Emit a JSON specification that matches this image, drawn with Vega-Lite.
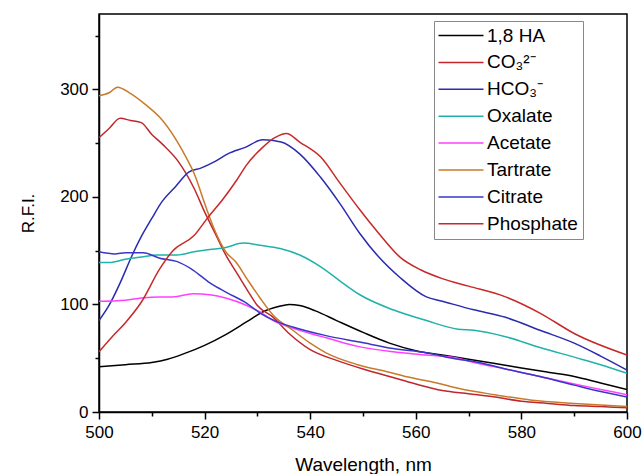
{
"$schema": "https://vega.github.io/schema/vega-lite/v6.json",
"width": 528, "height": 398,
"autosize": {"type": "none"},
"padding": {"left": 99, "top": 14, "right": 16, "bottom": 62},
"background": "white",
"config": {
  "view": {"stroke": "black", "strokeWidth": 1.5},
  "font": "Liberation Sans",
  "axis": {"domainColor": "black", "domainWidth": 1.5, "tickColor": "black", "tickWidth": 1.5, "labelColor": "black", "titleColor": "black", "grid": false, "labelFont": "Liberation Sans", "titleFont": "Liberation Sans", "titleFontWeight": "normal", "labelFontSize": 17}
},
"data": {"values": [
{"s":"1,8 HA","x":500,"y":42},{"s":"1,8 HA","x":505,"y":44},{"s":"1,8 HA","x":510,"y":46},{"s":"1,8 HA","x":513,"y":49},{"s":"1,8 HA","x":516,"y":54},{"s":"1,8 HA","x":520,"y":62},{"s":"1,8 HA","x":524,"y":72},{"s":"1,8 HA","x":528,"y":84},{"s":"1,8 HA","x":531,"y":93},{"s":"1,8 HA","x":534,"y":98},{"s":"1,8 HA","x":536,"y":100},{"s":"1,8 HA","x":538,"y":99},{"s":"1,8 HA","x":541,"y":94},{"s":"1,8 HA","x":545,"y":85},{"s":"1,8 HA","x":550,"y":74},{"s":"1,8 HA","x":555,"y":64},{"s":"1,8 HA","x":560,"y":57},{"s":"1,8 HA","x":565,"y":53},{"s":"1,8 HA","x":570,"y":49},{"s":"1,8 HA","x":575,"y":45},{"s":"1,8 HA","x":580,"y":41},{"s":"1,8 HA","x":585,"y":37},{"s":"1,8 HA","x":590,"y":33},{"s":"1,8 HA","x":595,"y":27},{"s":"1,8 HA","x":600,"y":21},
{"s":"CO₃²⁻","x":500,"y":255},{"s":"CO₃²⁻","x":502,"y":264},{"s":"CO₃²⁻","x":504,"y":273},{"s":"CO₃²⁻","x":506,"y":271},{"s":"CO₃²⁻","x":508,"y":269},{"s":"CO₃²⁻","x":510,"y":258},{"s":"CO₃²⁻","x":512,"y":249},{"s":"CO₃²⁻","x":515,"y":233},{"s":"CO₃²⁻","x":518,"y":208},{"s":"CO₃²⁻","x":520,"y":186},{"s":"CO₃²⁻","x":522,"y":166},{"s":"CO₃²⁻","x":524,"y":146},{"s":"CO₃²⁻","x":526,"y":130},{"s":"CO₃²⁻","x":528,"y":114},{"s":"CO₃²⁻","x":530,"y":99},{"s":"CO₃²⁻","x":533,"y":88},{"s":"CO₃²⁻","x":536,"y":73},{"s":"CO₃²⁻","x":540,"y":58},{"s":"CO₃²⁻","x":545,"y":48},{"s":"CO₃²⁻","x":550,"y":40},{"s":"CO₃²⁻","x":555,"y":33},{"s":"CO₃²⁻","x":560,"y":26},{"s":"CO₃²⁻","x":565,"y":20},{"s":"CO₃²⁻","x":570,"y":17},{"s":"CO₃²⁻","x":575,"y":14},{"s":"CO₃²⁻","x":580,"y":10},{"s":"CO₃²⁻","x":585,"y":8},{"s":"CO₃²⁻","x":590,"y":6},{"s":"CO₃²⁻","x":595,"y":5},{"s":"CO₃²⁻","x":600,"y":4},
{"s":"HCO₃⁻","x":500,"y":85},{"s":"HCO₃⁻","x":502,"y":100},{"s":"HCO₃⁻","x":504,"y":120},{"s":"HCO₃⁻","x":506.3,"y":146},{"s":"HCO₃⁻","x":508,"y":163},{"s":"HCO₃⁻","x":510,"y":180},{"s":"HCO₃⁻","x":512,"y":196},{"s":"HCO₃⁻","x":514.4,"y":209},{"s":"HCO₃⁻","x":517,"y":223},{"s":"HCO₃⁻","x":519.4,"y":227},{"s":"HCO₃⁻","x":522,"y":233},{"s":"HCO₃⁻","x":524.4,"y":240},{"s":"HCO₃⁻","x":527.7,"y":246},{"s":"HCO₃⁻","x":531,"y":253},{"s":"HCO₃⁻","x":534.5,"y":251},{"s":"HCO₃⁻","x":538,"y":240},{"s":"HCO₃⁻","x":542,"y":218},{"s":"HCO₃⁻","x":545.6,"y":194},{"s":"HCO₃⁻","x":549.4,"y":166},{"s":"HCO₃⁻","x":553,"y":144},{"s":"HCO₃⁻","x":557,"y":125},{"s":"HCO₃⁻","x":562,"y":107},{"s":"HCO₃⁻","x":565,"y":103},{"s":"HCO₃⁻","x":571,"y":95},{"s":"HCO₃⁻","x":577,"y":88},{"s":"HCO₃⁻","x":583.5,"y":76},{"s":"HCO₃⁻","x":590,"y":64},{"s":"HCO₃⁻","x":595,"y":52},{"s":"HCO₃⁻","x":600,"y":39},
{"s":"Oxalate","x":500,"y":139},{"s":"Oxalate","x":502,"y":139},{"s":"Oxalate","x":505,"y":142},{"s":"Oxalate","x":508,"y":144},{"s":"Oxalate","x":511,"y":146},{"s":"Oxalate","x":514.8,"y":146},{"s":"Oxalate","x":518,"y":149},{"s":"Oxalate","x":521,"y":151},{"s":"Oxalate","x":524,"y":153},{"s":"Oxalate","x":527.3,"y":157},{"s":"Oxalate","x":530.5,"y":155},{"s":"Oxalate","x":534.3,"y":152},{"s":"Oxalate","x":538,"y":146},{"s":"Oxalate","x":542,"y":135},{"s":"Oxalate","x":545.6,"y":122},{"s":"Oxalate","x":549.4,"y":109},{"s":"Oxalate","x":555.7,"y":95},{"s":"Oxalate","x":562,"y":85},{"s":"Oxalate","x":568,"y":77},{"s":"Oxalate","x":571,"y":76},{"s":"Oxalate","x":577,"y":70},{"s":"Oxalate","x":583.5,"y":60},{"s":"Oxalate","x":590,"y":51},{"s":"Oxalate","x":595,"y":44},{"s":"Oxalate","x":600,"y":36},
{"s":"Acetate","x":500,"y":103},{"s":"Acetate","x":505,"y":104},{"s":"Acetate","x":508,"y":106},{"s":"Acetate","x":511.5,"y":107},{"s":"Acetate","x":514,"y":107},{"s":"Acetate","x":517.8,"y":110},{"s":"Acetate","x":521,"y":109},{"s":"Acetate","x":524,"y":106},{"s":"Acetate","x":528,"y":99},{"s":"Acetate","x":530.5,"y":93},{"s":"Acetate","x":533,"y":85},{"s":"Acetate","x":536.7,"y":78},{"s":"Acetate","x":540,"y":73},{"s":"Acetate","x":543,"y":69},{"s":"Acetate","x":549,"y":61},{"s":"Acetate","x":555.7,"y":56},{"s":"Acetate","x":562,"y":53},{"s":"Acetate","x":568,"y":50},{"s":"Acetate","x":571,"y":46},{"s":"Acetate","x":577,"y":40},{"s":"Acetate","x":583.5,"y":33},{"s":"Acetate","x":590,"y":26},{"s":"Acetate","x":595,"y":21},{"s":"Acetate","x":600,"y":16},
{"s":"Tartrate","x":500,"y":294},{"s":"Tartrate","x":502,"y":297},{"s":"Tartrate","x":503.5,"y":302},{"s":"Tartrate","x":506,"y":296},{"s":"Tartrate","x":509,"y":285},{"s":"Tartrate","x":511.5,"y":274},{"s":"Tartrate","x":514.5,"y":254},{"s":"Tartrate","x":517,"y":232},{"s":"Tartrate","x":518,"y":222},{"s":"Tartrate","x":520,"y":194},{"s":"Tartrate","x":522,"y":168},{"s":"Tartrate","x":524,"y":149},{"s":"Tartrate","x":526,"y":139},{"s":"Tartrate","x":528,"y":124},{"s":"Tartrate","x":530.5,"y":106},{"s":"Tartrate","x":533,"y":90},{"s":"Tartrate","x":536.7,"y":76},{"s":"Tartrate","x":540,"y":64},{"s":"Tartrate","x":543,"y":55},{"s":"Tartrate","x":549,"y":44},{"s":"Tartrate","x":555,"y":37},{"s":"Tartrate","x":559,"y":32},{"s":"Tartrate","x":564,"y":27},{"s":"Tartrate","x":568,"y":22},{"s":"Tartrate","x":575,"y":16},{"s":"Tartrate","x":582,"y":11},{"s":"Tartrate","x":590,"y":8},{"s":"Tartrate","x":600,"y":5},
{"s":"Citrate","x":500,"y":149},{"s":"Citrate","x":503,"y":147},{"s":"Citrate","x":505,"y":148},{"s":"Citrate","x":508.4,"y":148},{"s":"Citrate","x":511.5,"y":143},{"s":"Citrate","x":514.7,"y":140},{"s":"Citrate","x":517.8,"y":132},{"s":"Citrate","x":521,"y":120},{"s":"Citrate","x":524.2,"y":111},{"s":"Citrate","x":528,"y":101},{"s":"Citrate","x":530.5,"y":92},{"s":"Citrate","x":533.7,"y":84},{"s":"Citrate","x":536.7,"y":79},{"s":"Citrate","x":543,"y":71},{"s":"Citrate","x":549.4,"y":65},{"s":"Citrate","x":555.7,"y":59},{"s":"Citrate","x":562,"y":55},{"s":"Citrate","x":568,"y":49},{"s":"Citrate","x":571,"y":47},{"s":"Citrate","x":577,"y":40},{"s":"Citrate","x":583.5,"y":33},{"s":"Citrate","x":590,"y":25},{"s":"Citrate","x":595,"y":19},{"s":"Citrate","x":600,"y":14},
{"s":"Phosphate","x":500,"y":56},{"s":"Phosphate","x":502.5,"y":70},{"s":"Phosphate","x":505,"y":83},{"s":"Phosphate","x":508,"y":102},{"s":"Phosphate","x":511.5,"y":133},{"s":"Phosphate","x":514,"y":150},{"s":"Phosphate","x":518,"y":164},{"s":"Phosphate","x":520.5,"y":180},{"s":"Phosphate","x":523.5,"y":198},{"s":"Phosphate","x":526,"y":215},{"s":"Phosphate","x":528,"y":230},{"s":"Phosphate","x":531,"y":246},{"s":"Phosphate","x":533.3,"y":255},{"s":"Phosphate","x":535.5,"y":259},{"s":"Phosphate","x":538,"y":251},{"s":"Phosphate","x":542,"y":237},{"s":"Phosphate","x":545.6,"y":213},{"s":"Phosphate","x":549.4,"y":188},{"s":"Phosphate","x":553,"y":166},{"s":"Phosphate","x":557,"y":144},{"s":"Phosphate","x":561,"y":132},{"s":"Phosphate","x":565,"y":124},{"s":"Phosphate","x":570,"y":117},{"s":"Phosphate","x":577,"y":107},{"s":"Phosphate","x":583.5,"y":92},{"s":"Phosphate","x":590,"y":73},{"s":"Phosphate","x":600,"y":53}
]},
"mark": {"type": "line", "strokeWidth": 1.5, "interpolate": "monotone", "clip": true},
"encoding": {
  "x": {"field": "x", "type": "quantitative", "scale": {"domain": [500, 600], "nice": false, "zero": false},
    "axis": {"title": "Wavelength, nm", "titleFontSize": 19, "values": [500,510,520,530,540,550,560,570,580,590,600],
      "labelExpr": "datum.value % 20 === 0 ? datum.label : ''", "labelFlush": false, "labelPadding": 5,
      "tickSize": {"condition": {"test": "datum.value % 20 === 0", "value": 7}, "value": 4},
      "titleBaseline": "alphabetic", "titleY": 58}},
  "y": {"field": "y", "type": "quantitative", "scale": {"domain": [0, 370], "nice": false},
    "axis": {"title": "R.F.I.", "titleFontSize": 17, "values": [0,50,100,150,200,250,300,350],
      "labelExpr": "datum.value % 100 === 0 ? datum.label : ''", "labelPadding": 4,
      "tickSize": {"condition": {"test": "datum.value % 100 === 0", "value": 7}, "value": 4},
      "titleX": -62}},
  "color": {"field": "s", "type": "nominal",
    "scale": {"domain": ["1,8 HA","CO₃²⁻","HCO₃⁻","Oxalate","Acetate","Tartrate","Citrate","Phosphate"],
      "range": ["#000000","#c0272d","#2b2bb0","#20b2aa","#ff40ff","#c87a2a","#3838c8","#c82828"]},
    "legend": {"title": null, "orient": "none", "legendX": 335, "legendY": 7, "symbolType": "M-2,0H7", "symbolSize": 100, "symbolStrokeWidth": 1.5,
      "labelFontSize": 19, "labelFont": "Liberation Sans", "labelColor": "black", "rowPadding": 6.9, "padding": 5, "strokeColor": "#888888", "fillColor": "white", "labelOffset": 29}}
}
}
